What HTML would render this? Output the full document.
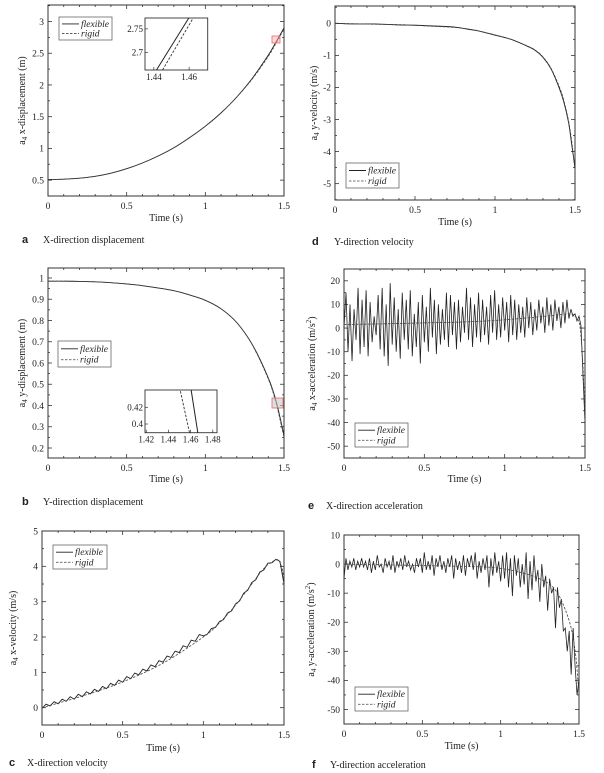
<!DOCTYPE html>
<html><head><meta charset="utf-8"><style>
html,body{margin:0;padding:0;background:#fff;}
svg{display:block;}
text{font-family:"Liberation Serif",serif;fill:#222;}
</style></head><body>
<svg id="fig" width="604" height="773" viewBox="0 0 604 773" xmlns="http://www.w3.org/2000/svg"></svg>
<script>
// ---------- data ----------
const tA = [0,0.1,0.2,0.3,0.4,0.5,0.6,0.7,0.8,0.9,1.0,1.1,1.2,1.3,1.4,1.45,1.5];
const flexA = [0.51,0.515,0.53,0.56,0.61,0.68,0.77,0.88,1.01,1.17,1.35,1.56,1.81,2.11,2.47,2.68,2.9];
const rigidA = [0.51,0.515,0.53,0.56,0.61,0.68,0.77,0.88,1.01,1.17,1.35,1.56,1.81,2.1,2.45,2.66,2.88];
const tB = [0,0.1,0.2,0.3,0.4,0.5,0.6,0.7,0.8,0.9,1.0,1.1,1.2,1.3,1.4,1.45,1.5];
const flexB = [0.985,0.985,0.984,0.982,0.978,0.972,0.964,0.953,0.94,0.92,0.895,0.855,0.79,0.685,0.53,0.42,0.26];
const rigidB = [0.985,0.985,0.984,0.982,0.978,0.972,0.964,0.953,0.94,0.92,0.895,0.855,0.79,0.683,0.525,0.41,0.25];
const flexC = [-0.02,0.1,0.05,0.17,0.11,0.24,0.18,0.31,0.24,0.38,
0.31,0.45,0.39,0.52,0.46,0.6,0.54,0.69,0.63,0.78,
0.72,0.88,0.82,0.98,0.93,1.09,1.04,1.21,1.16,1.33,
1.29,1.46,1.42,1.6,1.56,1.75,1.71,1.91,1.88,2.07,
2.03,2.08,2.24,2.27,2.44,2.49,2.68,2.74,2.94,3.02,
3.24,3.32,3.54,3.62,3.84,3.9,4.09,4.1,4.2,4.14,3.5];
const tRigidC = [0,0.25,0.5,0.75,1.0,1.1,1.2,1.25,1.3,1.35,1.4,1.45,1.47,1.49,1.5];
const rigidC = [0,0.33,0.73,1.26,2.0,2.4,2.9,3.2,3.5,3.8,4.05,4.18,4.15,3.9,3.5];
const tD = [0,0.1,0.25,0.4,0.5,0.6,0.75,0.85,0.9,1.0,1.1,1.2,1.25,1.3,1.35,1.4,1.43,1.46,1.48,1.5];
const flexD = [0,-0.02,-0.02,-0.05,-0.06,-0.08,-0.12,-0.2,-0.24,-0.37,-0.5,-0.71,-0.84,-1.06,-1.42,-2.0,-2.45,-3.1,-3.8,-4.5];
const rigidD = [0,-0.01,-0.03,-0.04,-0.06,-0.09,-0.13,-0.19,-0.24,-0.36,-0.5,-0.7,-0.83,-1.05,-1.4,-1.95,-2.4,-3.05,-3.7,-4.6];
const flexE = [0,15,-10,10,-14,8,-5,17,-11,12,
-8,16,-12,11,-6,5,-3,14,-9,17,
-12,10,-16,19,-7,13,-10,8,-13,15,
-5,12,-9,16,-12,6,-8,11,-15,14,
-6,9,-10,17,-4,12,-11,10,-7,8,
-5,15,-8,14,-3,11,-9,12,-6,9,
-2,17,-5,13,-8,10,-4,15,-6,12,
-3,9,-7,14,-2,16,-5,10,-4,13,
-1,11,-6,14,-3,12,-5,10,-2,9,
-4,13,0,11,-3,8,-1,12,2,9,
-2,13,1,10,-1,12,3,9,0,11,
2,12,4,8,5,6,3,5,1,-20,-40];
const tRigidE = [0,0.25,0.5,0.75,1.0,1.25,1.4,1.44,1.46,1.47,1.48,1.49,1.5];
const rigidE = [1.5,1.8,2.2,2.6,3.5,5,6,5,3,0,-8,-20,-40];
const flexF = [-5,2,-2,1,-1,2,-2,1,-1,2,
-1,1,-2,2,-3,1,-2,3,-1,0,
-3,2,-1,1,-2,3,-3,1,-1,2,
-2,3,-1,1,-2,0,-3,2,-1,2,
-3,4,-2,1,-2,3,-4,2,-1,3,
-2,1,-3,2,-1,3,-5,2,-2,1,
-3,3,-4,2,-1,3,-2,4,-5,1,
-3,2,-2,3,-8,2,-4,4,-3,1,
-6,3,-5,4,-8,2,-11,3,-4,2,
-8,0,-7,4,-12,1,-9,3,-6,-2,
-13,0,-8,-4,-16,-5,-10,-8,-22,-8,
-15,-12,-23,-22,-30,-23,-38,-22,-35,-45,-40];
const tRigidF = [0,0.5,0.9,1.0,1.1,1.2,1.3,1.35,1.4,1.45,1.48,1.5];
const rigidF = [0,-0.5,-1,-1.5,-2.5,-4,-6.5,-9,-14,-22,-32,-45];
const xTicks = [0,0.5,1,1.5];
const xTickLabels = ["0","0.5","1","1.5"];
const yTicksA = [0.5,1,1.5,2,2.5,3];
const yTicksB = [0.2,0.3,0.4,0.5,0.6,0.7,0.8,0.9,1];
const yTicksC = [0,1,2,3,4,5];
const yTicksD = [-5,-4,-3,-2,-1,0];
const yTicksE = [-50,-40,-30,-20,-10,0,10,20];
const yTicksF = [-50,-40,-30,-20,-10,0,10];
const insetAxT = [1.44,1.46];
const insetAyT = [2.7,2.75];
const insetAflexT = [1.4415,1.4598];
const insetAflexV = [2.663,2.773];
const insetArigT = [1.4449,1.4623];
const insetArigV = [2.663,2.773];
const insetBxT = [1.42,1.44,1.46,1.48];
const insetByT = [0.4,0.42];
const insetBflexT = [1.4665,1.4605];
const insetBflexV = [0.3896,0.4407];
const insetBrigT = [1.459,1.4506];
const insetBrigV = [0.3896,0.4407];

// ---------- helpers ----------
const NS = "http://www.w3.org/2000/svg";
const svg = document.getElementById("fig");
function mk(tag, attrs, parent) {
  const e = document.createElementNS(NS, tag);
  for (const k in attrs) e.setAttribute(k, attrs[k]);
  (parent || svg).appendChild(e);
  return e;
}
function uniformT(n) { const a = []; for (let i = 0; i < n; i++) a.push(1.5 * i / (n - 1)); return a; }
function scale(d0, d1, r0, r1) { return v => r0 + (v - d0) / (d1 - d0) * (r1 - r0); }
function pathD(ts, vs, sx, sy) { return ts.map((t, i) => (i ? "L" : "M") + sx(t).toFixed(2) + "," + sy(vs[i]).toFixed(2)).join(""); }
function smoothD(ts, vs, sx, sy) {
  const P = ts.map((t, i) => [sx(t), sy(vs[i])]);
  let d = "M" + P[0][0].toFixed(2) + "," + P[0][1].toFixed(2);
  for (let i = 0; i < P.length - 1; i++) {
    const p0 = P[i-1] || P[i], p1 = P[i], p2 = P[i+1], p3 = P[i+2] || P[i+1];
    const c1 = [p1[0] + (p2[0]-p0[0])/6, p1[1] + (p2[1]-p0[1])/6];
    const c2 = [p2[0] - (p3[0]-p1[0])/6, p2[1] - (p3[1]-p1[1])/6];
    d += "C" + c1[0].toFixed(2) + "," + c1[1].toFixed(2) + " " + c2[0].toFixed(2) + "," + c2[1].toFixed(2) + " " + p2[0].toFixed(2) + "," + p2[1].toFixed(2);
  }
  return d;
}

function panel(p) {
  const g = mk("g", {});
  
  
  const sx = scale(0, 1.5, p.L, p.R), sy = scale(p.y0, p.y1, p.B, p.T);
  const frame = mk("rect", {x:p.L, y:p.T, width:p.R-p.L, height:p.B-p.T, fill:"#fff", stroke:"#333", "stroke-width":1}, g);
  
  
  for (let k = 0; k <= 15; k++) {
    const x = sx(k * 0.1), major = k % 5 === 0, len = major ? 4 : 2;
    const t1 = mk("line", {x1:x, x2:x, y1:p.B, y2:p.B-len, stroke:"#333", "stroke-width":0.8}, g);
    
    
    const t2 = mk("line", {x1:x, x2:x, y1:p.T, y2:p.T+len, stroke:"#333", "stroke-width":0.8}, g);
    
    
  }
  xTicks.forEach((v, i) => {
    const t = mk("text", {x:sx(v), y:p.B+13, "font-size":9.5, "text-anchor":"middle"}, g);
    t.textContent = xTickLabels[i];
    
    
  });
  const step = p.yt[1] - p.yt[0];
  const minors = [];
  for (let v = p.yt[0] - step; v <= p.yt[p.yt.length-1] + step; v += step / 2) minors.push(v);
  minors.forEach(v => {
    if (v < Math.min(p.y0,p.y1) - 1e-9 || v > Math.max(p.y0,p.y1) + 1e-9) return;
    const y = sy(v);
    const isMaj = p.yt.some(m => Math.abs(m - v) < 1e-9), len = isMaj ? 4 : 2;
    const a = mk("line", {x1:p.L, x2:p.L+len, y1:y, y2:y, stroke:"#333", "stroke-width":0.8}, g);
    
    
    const b = mk("line", {x1:p.R, x2:p.R-len, y1:y, y2:y, stroke:"#333", "stroke-width":0.8}, g);
    
    
  });
  p.yt.forEach(v => {
    const t = mk("text", {x:p.L-4, y:sy(v)+3.3, "font-size":9.5, "text-anchor":"end"}, g);
    t.textContent = String(v);
    
    
  });
  const fd = p.smoothFlex ? smoothD(p.flexT, p.flex, sx, sy) : pathD(p.flexT, p.flex, sx, sy);
  const fl = mk("path", {d:fd, fill:"none", stroke:"#222", "stroke-width":p.fw || 0.9}, g);
  
  
  const rg = mk("path", {d:smoothD(p.rigT, p.rig, sx, sy), fill:"none", stroke:"#444", "stroke-width":0.8, "stroke-dasharray":"2.5,1.5"}, g);
  
  
  const xt = mk("text", {x:(p.L+p.R)/2, y:p.xtY, "font-size":10, "text-anchor":"middle"}, g);
  xt.textContent = "Time (s)";
  
  
  const cy = (p.T+p.B)/2;
  const yt = mk("text", {x:p.ytX, y:cy, "font-size":10, "text-anchor":"middle", transform:"rotate(-90 "+p.ytX+" "+cy+")"}, g);
  
  
  const s1 = mk("tspan", {}, yt); s1.textContent = "a";
  const s2 = mk("tspan", {"font-size":7, dy:2}, yt); s2.textContent = "4";
  const s3 = mk("tspan", {dy:-2}, yt); s3.textContent = " " + p.ytitle;
  if (p.sup) { const s4 = mk("tspan", {"font-size":7, dy:-4}, yt); s4.textContent = "2"; const s5 = mk("tspan", {dy:4}, yt); s5.textContent = ")"; }
  const lg = mk("g", {}, g);
  
  
  mk("rect", {x:p.lg[0], y:p.lg[1], width:p.lg[2], height:p.lg[3], fill:"#fff", stroke:"#666", "stroke-width":0.8}, lg);
  const r1 = p.lg[1] + p.lg[3]*0.3, r2 = p.lg[1] + p.lg[3]*0.72;
  mk("line", {x1:p.lg[0]+3, x2:p.lg[0]+20, y1:r1, y2:r1, stroke:"#222", "stroke-width":0.9}, lg);
  mk("line", {x1:p.lg[0]+3, x2:p.lg[0]+20, y1:r2, y2:r2, stroke:"#444", "stroke-width":0.8, "stroke-dasharray":"2.5,1.5"}, lg);
  const l1 = mk("text", {x:p.lg[0]+22, y:r1+3, "font-size":9.5, "font-style":"italic"}, lg); l1.textContent = "flexible";
  
  
  const l2 = mk("text", {x:p.lg[0]+22, y:r2+3, "font-size":9.5, "font-style":"italic"}, lg); l2.textContent = "rigid";
  
  
  const cl = mk("text", {x:p.cap[0], y:p.cap[2], "font-size":11, "font-weight":"bold", style:"font-family:'Liberation Sans',sans-serif"}, g);
  cl.textContent = p.id;
  
  
  const ct = mk("text", {x:p.cap[1], y:p.cap[2], "font-size":10}, g);
  ct.textContent = p.caption;
  
  
  return {g, sx, sy};
}

function inset(parent, q) {
  const g = mk("g", {}, parent);
  
  
  const sx = scale(q.x0, q.x1, q.L, q.R), sy = scale(q.y0, q.y1, q.B, q.T);
  mk("rect", {x:q.L, y:q.T, width:q.R-q.L, height:q.B-q.T, fill:"#fff", stroke:"#333", "stroke-width":0.9}, g);
  q.xt.forEach(v => {
    mk("line", {x1:sx(v), x2:sx(v), y1:q.B, y2:q.B-3, stroke:"#333", "stroke-width":0.7}, g);
    const t = mk("text", {x:sx(v), y:q.B+10, "font-size":9, "text-anchor":"middle"}, g);
    t.textContent = String(v);
    
    
  });
  q.yt.forEach(v => {
    mk("line", {x1:q.L, x2:q.L+3, y1:sy(v), y2:sy(v), stroke:"#333", "stroke-width":0.7}, g);
    const t = mk("text", {x:q.L-2, y:sy(v)+3, "font-size":9, "text-anchor":"end"}, g);
    t.textContent = String(v);
    
    
  });
  const a = mk("path", {d:pathD(q.ft, q.fv, sx, sy), fill:"none", stroke:"#222", "stroke-width":1}, g);
  
  
  const b = mk("path", {d:pathD(q.rt, q.rv, sx, sy), fill:"none", stroke:"#333", "stroke-width":0.9, "stroke-dasharray":"2.5,1.5"}, g);
  
  
  const box = mk("rect", {x:q.box[0], y:q.box[1], width:q.box[2], height:q.box[3], fill:q.boxFill, stroke:"#e66", "stroke-width":0.8}, parent);
  
  
}

const pa = panel({id:"a", L:48, R:284, T:5, B:196, y0:0.25, y1:3.26, yt:yTicksA, flexT:tA, flex:flexA, rigT:tA, rig:rigidA, smoothFlex:true,
  xtY:221, ytX:25, ytitle:"x-displacement (m)", lg:[59,17,53,23], cap:[22,43,243], caption:"X-direction displacement"});
inset(pa.g, {L:145, R:207.7, T:18, B:70, x0:1.435, x1:1.4705, y0:2.663, y1:2.773, xt:insetAxT, yt:insetAyT,
  ft:insetAflexT, fv:insetAflexV, rt:insetArigT, rv:insetArigV, box:[272,36,8,7], boxFill:"rgba(255,170,170,0.45)"});

const pb = panel({id:"b", L:48, R:284, T:268, B:458, y0:0.153, y1:1.047, yt:yTicksB, flexT:tB, flex:flexB, rigT:tB, rig:rigidB, smoothFlex:true,
  xtY:482, ytX:25, ytitle:"y-displacement (m)", lg:[58,341,53,26], cap:[22,43,505], caption:"Y-direction displacement"});
inset(pb.g, {L:145, R:217, T:390, B:432.7, x0:1.4189, x1:1.4838, y0:0.3896, y1:0.4407, xt:insetBxT, yt:insetByT,
  ft:insetBflexT, fv:insetBflexV, rt:insetBrigT, rv:insetBrigV, box:[272,398,11,10], boxFill:"rgba(200,200,200,0.6)"});

panel({id:"c", L:42, R:284, T:531, B:725, y0:-0.49, y1:5, yt:yTicksC, flexT:uniformT(flexC.length), flex:flexC, rigT:tRigidC, rig:rigidC,
  xtY:751, ytX:16, ytitle:"x-velocity (m/s)", lg:[53,545,54,24], cap:[9,27,766], caption:"X-direction velocity"});

panel({id:"d", L:335, R:575, T:6, B:200, y0:-5.51, y1:0.54, yt:yTicksD, flexT:tD, flex:flexD, rigT:tD, rig:rigidD, smoothFlex:true,
  xtY:225, ytX:317, ytitle:"y-velocity (m/s)", lg:[346,163,53,25], cap:[312,334,245], caption:"Y-direction velocity"});

panel({id:"e", L:344, R:585, T:269, B:458, y0:-55, y1:25, yt:yTicksE, flexT:uniformT(flexE.length), flex:flexE, rigT:tRigidE, rig:rigidE, fw:0.8,
  xtY:482, ytX:315, ytitle:"x-acceleration (m/s", sup:true, lg:[355,423,53,24], cap:[308,326,509], caption:"X-direction acceleration"});

panel({id:"f", L:344, R:579, T:535, B:724, y0:-55, y1:10, yt:yTicksF, flexT:uniformT(flexF.length), flex:flexF, rigT:tRigidF, rig:rigidF, fw:0.8,
  xtY:749, ytX:314, ytitle:"y-acceleration (m/s", sup:true, lg:[355,687,53,24], cap:[312,330,768], caption:"Y-direction acceleration"});
</script>
</body></html>
